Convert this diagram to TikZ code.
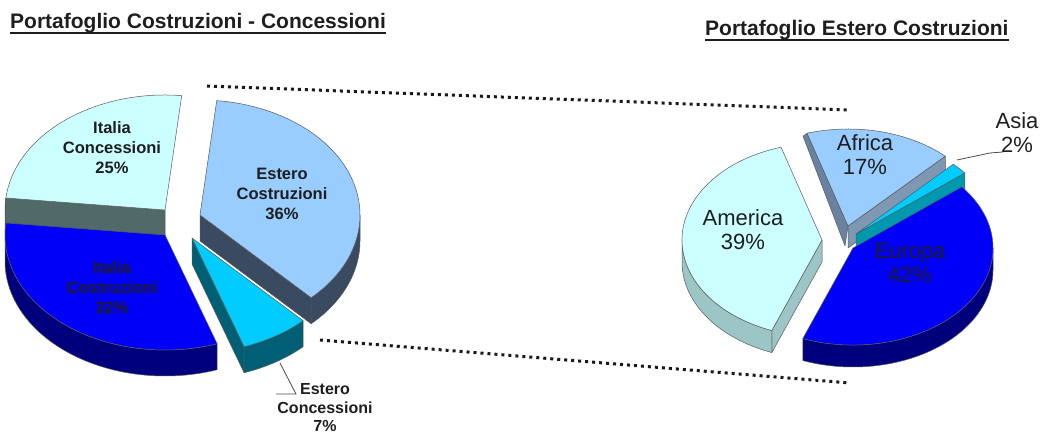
\documentclass[tikz,border=0pt]{standalone}
\usepackage{fontspec}
\setmainfont{Liberation Sans}
\usetikzlibrary{calc}

\definecolor{paleTop}{HTML}{CCFFFF}
\definecolor{paleSide}{HTML}{506A6A}
\definecolor{paleSideB}{HTML}{9CC6C6}
\definecolor{blueTop}{HTML}{0000FA}
\definecolor{blueSide}{HTML}{00007C}
\definecolor{skyTop}{HTML}{99CCFF}
\definecolor{skySide}{HTML}{3A4A60}
\definecolor{skySideB}{HTML}{7E98B4}
\definecolor{skyEdge}{HTML}{6A82A0}
\definecolor{cyanTop}{HTML}{00CCFF}
\definecolor{cyanSide}{HTML}{005F75}
\definecolor{cyanSideB}{HTML}{0098AE}
\definecolor{inkgrey}{HTML}{1E1E1E}

% slice pieces: radii and depth come from \prx, \pry, \pdep
\newcommand{\slicetop}[4]{%
  \filldraw[edge, fill=#4, shift={(#1)}] (0,0) -- (#2:\prx pt and \pry pt)
    arc[start angle=#2, end angle=#3, x radius=\prx pt, y radius=\pry pt] -- cycle;}
\newcommand{\sliceside}[4]{%
  \filldraw[edge, fill=#4, shift={(#1)}] (#2:\prx pt and \pry pt)
    arc[start angle=#2, end angle=#3, x radius=\prx pt, y radius=\pry pt]
    -- ++(0,-\pdep pt)
    arc[start angle=#3, end angle=#2, x radius=\prx pt, y radius=\pry pt] -- cycle;}
\newcommand{\slicewall}[3]{%
  \filldraw[edge, fill=#3, shift={(#1)}] (0,0) -- (#2:\prx pt and \pry pt)
    -- ++(0,-\pdep pt) -- (0,-\pdep pt) -- cycle;}

\begin{document}
\begin{tikzpicture}[x=1pt, y=1pt,
    edge/.style={draw=black!65, line width=0.5pt, line join=round},
    title/.style={font=\bfseries\fontsize{21}{24}\selectfont, text=inkgrey,
                  inner sep=0pt, anchor=base west},
    leftlbl/.style={font=\bfseries\fontsize{16.5}{20}\selectfont, text=inkgrey,
                    align=center, inner sep=0pt},
    rightlbl/.style={font=\fontsize{22}{24}\selectfont, text=inkgrey,
                     align=center, inner sep=0pt},
    dotline/.style={line width=3pt, dash pattern=on 3pt off 4pt, black!90},
    leader/.style={draw=black!70, line width=0.8pt}]
  \useasboundingbox (0,0) rectangle (1042,-435);

  \node[title] (t1) at (10,-29)  {Portafoglio Costruzioni - Concessioni};
  \node[title] (t2) at (705,-36) {Portafoglio Estero Costruzioni};
  \draw[line width=1.6pt, inkgrey] ([yshift=-4pt]t1.base west) -- ([yshift=-4pt]t1.base east);
  \draw[line width=1.6pt, inkgrey] ([yshift=-4pt]t2.base west) -- ([yshift=-4pt]t2.base east);

  % left pie
  \def\prx{160}\def\pry{115}\def\pdep{26}
  \coordinate (ic) at (165,-210);
  \coordinate (ec) at (200,-215);
  \coordinate (it) at (165,-235);
  \coordinate (en) at (192,-238);

  \slicewall{ic}{174}{paleSide}
  \sliceside{ic}{174}{180}{paleSide}
  \slicetop{ic}{84}{174}{paleTop}

  \slicewall{ec}{314}{skySide}
  \sliceside{ec}{314}{360}{skySide}
  \slicetop{ec}{314}{444}{skyTop}

  \sliceside{it}{180}{289}{blueSide}
  \slicetop{it}{174}{289}{blueTop}

  \slicewall{en}{289}{cyanSide}
  \sliceside{en}{289}{314}{cyanSide}
  \slicetop{en}{289}{314}{cyanTop}

  \node[leftlbl] (icl) at (112,-148) {Italia\\Concessioni\\25\%};
  \node[leftlbl] (itl) at (112,-288) {Italia\\Costruzioni\\32\%};
  \node[leftlbl] (ecl) at (282,-194) {Estero\\Costruzioni\\36\%};
  \node[leftlbl, font=\bfseries\fontsize{16}{18.5}\selectfont] (enl) at (325,-408)
    {Estero\\Concessioni\\7\%};

  \coordinate (enpt) at (280,-363);
  \coordinate (enbend) at (296,-394);
  \draw[leader] (enpt) -- (enbend) -- ([xshift=-1pt]enl.north west |- enbend);

  % right pie
  \def\prx{140}\def\pry{97}\def\pdep{22}
  \coordinate (am) at (822,-240);
  \coordinate (af) at (848,-226);
  \coordinate (as) at (856,-234);
  \coordinate (eu) at (853,-248);

  \filldraw[edge, fill=skyEdge, shift={(af)}] (0,0) -- (107:\prx pt and \pry pt)
    -- ++(-4,-3) -- (-3,-20) -- cycle;
  \slicewall{af}{46}{skySideB}
  \slicetop{af}{46}{107}{skyTop}

  \slicewall{as}{39}{cyanSideB}
  \slicetop{as}{39}{46}{cyanTop}

  \slicewall{am}{249}{paleSideB}
  \sliceside{am}{180}{249}{paleSideB}
  \slicetop{am}{107}{249}{paleTop}

  \sliceside{eu}{249}{360}{blueSide}
  \slicetop{eu}{249}{399}{blueTop}

  \node[rightlbl] (aml) at (743,-230) {America\\39\%};
  \node[rightlbl] (afl) at (865,-155) {Africa\\17\%};
  \node[rightlbl] (eul) at (910,-263) {Europa\\42\%};
  \node[rightlbl] (asl) at (1017,-133) {Asia\\2\%};

  \coordinate (aspt) at (957,-160);
  \coordinate (asbend) at (990,-153);
  \draw[leader] (aspt) -- (asbend) -- (1003,-152);

  % dotted links between the two pies
  \coordinate (d1a) at (207,-86);
  \coordinate (d1b) at (850,-110);
  \coordinate (d2a) at (320,-340);
  \coordinate (d2b) at (850,-383);
  \draw[dotline] (d1a) -- (d1b);
  \draw[dotline] (d2a) -- (d2b);
\end{tikzpicture}
\end{document}
